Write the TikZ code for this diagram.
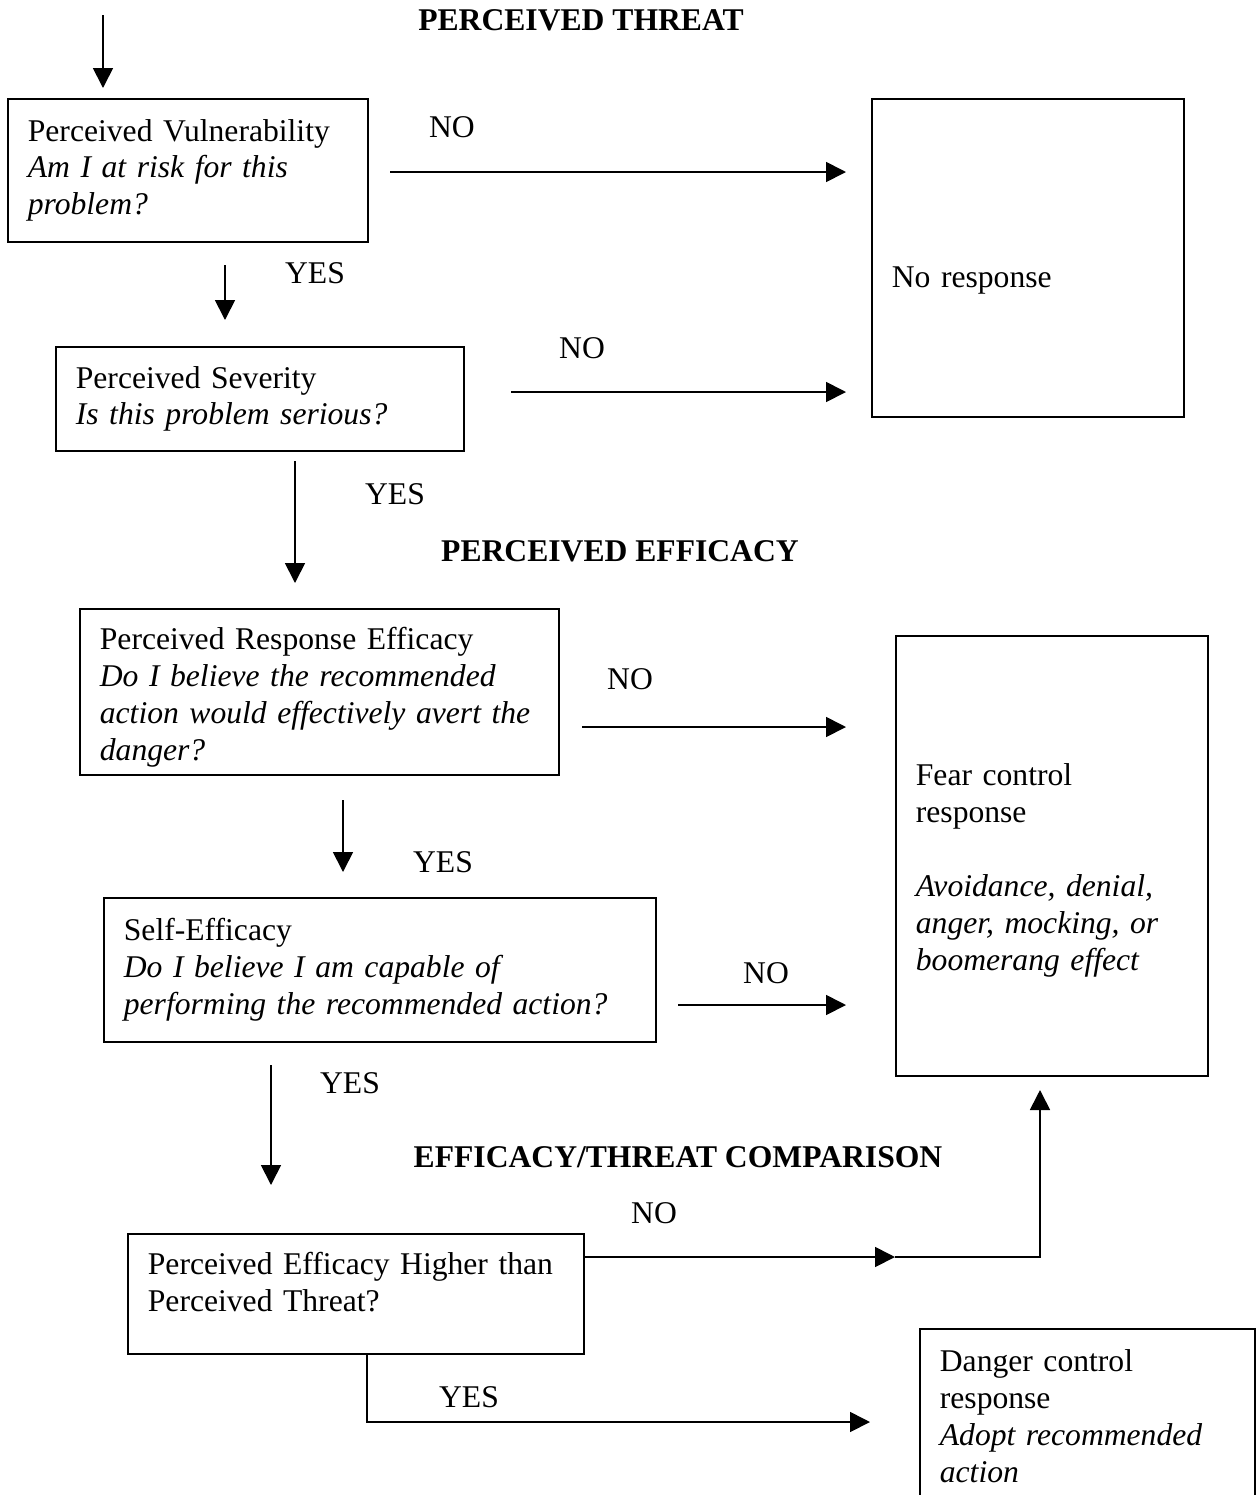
\documentclass[tikz,border=0pt]{standalone}
\usepackage{fontspec}
\setmainfont{Liberation Serif}
\usetikzlibrary{arrows.meta}

\begin{document}
\begin{tikzpicture}[
    x=0.02cm, y=-0.02cm,
    every node/.style={font=\fontsize{18}{21}\selectfont},
    box/.style={draw=black, line width=1pt, anchor=north west, align=left, inner xsep=0.4cm},
    head/.style={font=\fontsize{18}{21}\selectfont\bfseries},
    arr/.style={draw=black, line width=1pt, -{Triangle[length=0.4cm,width=0.4cm]}},
    ]
    \clip (0,0) rectangle (1257,1495);

    \node[head] (t-threat) at (581,20) {PERCEIVED THREAT};
    \node[head] (t-eff) at (620,551) {PERCEIVED EFFICACY};
    \node[head] (t-comp) at (678,1157) {EFFICACY/THREAT COMPARISON};

    \node[box, text width=6.4cm, minimum height=2.86cm] (vul) at (7,98)
        {Perceived Vulnerability\\ \textit{Am I at risk for this}\\ \textit{problem?}};
    \node[box, text width=7.36cm, minimum height=2.08cm] (sev) at (55,346)
        {Perceived Severity\\ \textit{Is this problem serious?}};
    \node[box, text width=8.78cm, minimum height=3.32cm] (resp) at (79,608)
        {\mbox{}\\[-2pt]Perceived Response Efficacy\\ \textit{Do I believe the recommended}\\ \textit{action would effectively avert the}\\ \textit{danger?}};
    \node[box, text width=10.24cm, minimum height=2.88cm] (self) at (103,897)
        {Self-Efficacy\\ \textit{Do I believe I am capable of}\\ \textit{performing the recommended action?}};
    \node[box, text width=8.32cm, minimum height=2.4cm] (comp) at (127,1233)
        {Perceived Efficacy Higher than\\ Perceived Threat?\\[-7pt]\mbox{}};
    \node[box, text width=5.44cm, minimum height=6.36cm] (nores) at (871,98)
        {\raisebox{-0.46cm}[\height][\depth]{No response}};
    \node[box, text width=5.44cm, minimum height=8.8cm] (fear) at (895,635)
        {\mbox{}\\[8pt]Fear control\\ response\\[21pt] \textit{Avoidance, denial,}\\ \textit{anger, mocking, or}\\ \textit{boomerang effect}};
    \node[box, text width=5.9cm, minimum height=3.48cm] (dang) at (919,1328)
        {Danger control\\ response\\ \textit{Adopt recommended}\\ \textit{action}};

    \node (no1) at (452,127) {NO};
    \node (yes1) at (315,273) {YES};
    \node (no2) at (582,348) {NO};
    \node (yes2) at (395,494) {YES};
    \node (no3) at (630,679) {NO};
    \node (yes3) at (443,862) {YES};
    \node (no4) at (766,973) {NO};
    \node (yes4) at (350,1083) {YES};
    \node (no5) at (654,1213) {NO};
    \node (yes5) at (469,1397) {YES};

    \coordinate (start) at (103,15);
    \coordinate (vul-in) at (103,88);
    \coordinate (vul-no) at (390,172);
    \coordinate (nores-in1) at (846,172);
    \coordinate (vul-yes) at (225,265);
    \coordinate (sev-in) at (225,320);
    \coordinate (sev-no) at (511,392);
    \coordinate (nores-in2) at (846,392);
    \coordinate (sev-yes) at (295,461);
    \coordinate (resp-in) at (295,583);
    \coordinate (resp-no) at (582,727);
    \coordinate (fear-in1) at (846,727);
    \coordinate (resp-yes) at (343,800);
    \coordinate (self-in) at (343,872);
    \coordinate (self-no) at (678,1005);
    \coordinate (fear-in2) at (846,1005);
    \coordinate (self-yes) at (271,1065);
    \coordinate (comp-in) at (271,1185);
    \coordinate (no-mid) at (895,1257);
    \coordinate (turn-no) at (1040,1257);
    \coordinate (fear-in3) at (1040,1090);
    \coordinate (turn-yes) at (367,1422);
    \coordinate (dang-in) at (870,1422);

    \draw[arr] (start) -- (vul-in);
    \draw[arr] (vul-no) -- (nores-in1);
    \draw[arr] (vul-yes) -- (sev-in);
    \draw[arr] (sev-no) -- (nores-in2);
    \draw[arr] (sev-yes) -- (resp-in);
    \draw[arr] (resp-no) -- (fear-in1);
    \draw[arr] (resp-yes) -- (self-in);
    \draw[arr] (self-no) -- (fear-in2);
    \draw[arr] (self-yes) -- (comp-in);
    \draw[arr] (comp.east |- turn-no) -- (no-mid);
    \draw[arr] (no-mid) -- (turn-no) -- (fear-in3);
    \draw[arr] (comp.south -| turn-yes) -- (turn-yes) -- (dang-in);
\end{tikzpicture}
\end{document}
